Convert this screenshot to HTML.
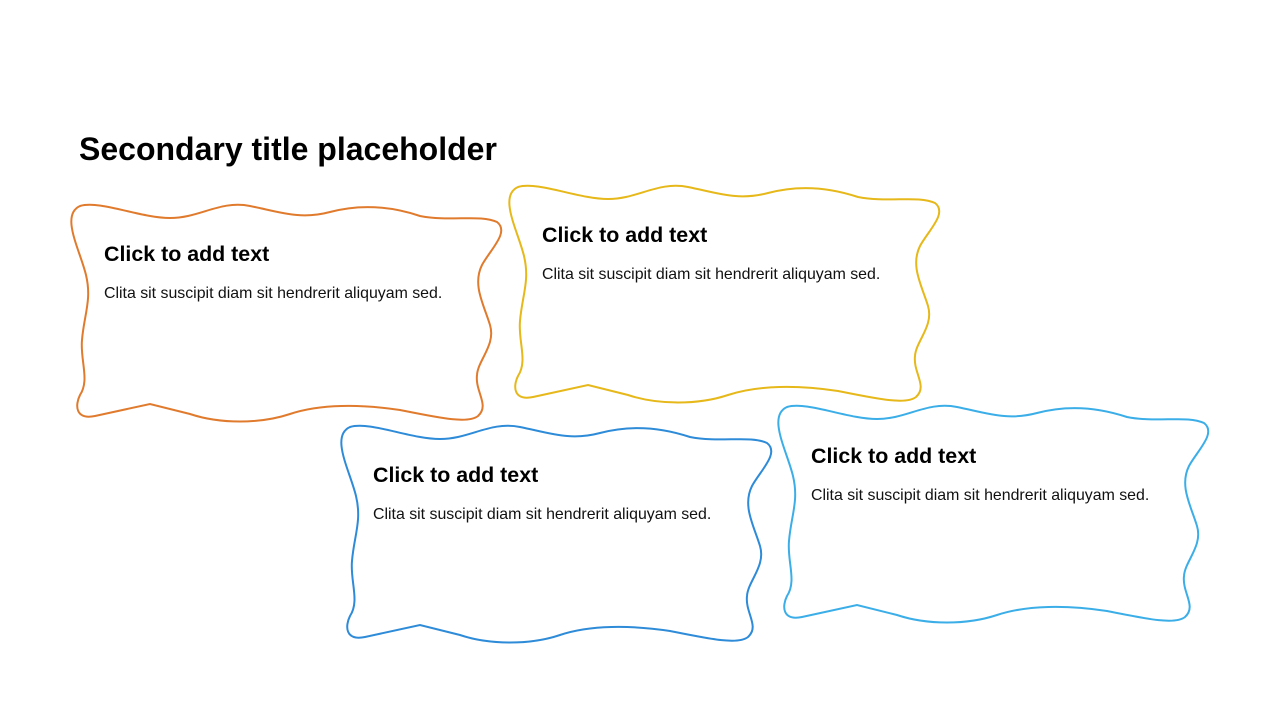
<!DOCTYPE html>
<html><head><meta charset="utf-8"><style>
html,body{margin:0;padding:0;background:#fff;}
body{width:1280px;height:720px;position:relative;overflow:hidden;font-family:"Liberation Sans",Arial,sans-serif;}
svg{position:absolute;left:0;top:0;}
.t{position:absolute;font-weight:bold;color:#000;white-space:nowrap;}
.h{font-size:21.4px;}
.b{position:absolute;font-size:15.9px;color:#111;white-space:nowrap;}
</style></head><body>
<svg width="1280" height="720" viewBox="0 0 1280 720">
<defs>
<path id="w" d="M 80,206 C 100,200 140,218 170,218 C 200,218 220,200 250,206 C 280,212 300,220 330,212 C 360,204 390,206 420,216 C 450,222 480,214 497,222 C 510,232 490,250 482,265 C 472,285 484,305 490,325 C 496,345 478,360 477,375 C 475,392 490,405 478,416 C 468,424 440,418 400,410 C 360,404 320,404 290,414 C 260,424 220,424 190,414 L 150,404 L 95,416 C 75,420 75,405 80,395 C 90,380 80,360 82,340 C 84,315 92,300 86,275 C 80,250 60,215 80,206 Z"/>
</defs>
<use href="#w" fill="none" stroke="#E07B2E" stroke-width="2"/>
<use href="#w" transform="translate(438,-19)" fill="none" stroke="#E6B81A" stroke-width="2"/>
<use href="#w" transform="translate(270,221)" fill="none" stroke="#2E8BD8" stroke-width="2"/>
<use href="#w" transform="translate(707,201)" fill="none" stroke="#3BAEE8" stroke-width="2"/>
</svg>
<div class="t" style="left:79px;top:131px;font-size:32px;">Secondary title placeholder</div>
<div class="t h" style="left:104px;top:242px;">Click to add text</div>
<div class="b" style="left:104px;top:285px;">Clita sit suscipit diam sit hendrerit aliquyam sed.</div>
<div class="t h" style="left:542px;top:223px;">Click to add text</div>
<div class="b" style="left:542px;top:266px;">Clita sit suscipit diam sit hendrerit aliquyam sed.</div>
<div class="t h" style="left:373px;top:463px;">Click to add text</div>
<div class="b" style="left:373px;top:506px;">Clita sit suscipit diam sit hendrerit aliquyam sed.</div>
<div class="t h" style="left:811px;top:444px;">Click to add text</div>
<div class="b" style="left:811px;top:487px;">Clita sit suscipit diam sit hendrerit aliquyam sed.</div>
</body></html>
